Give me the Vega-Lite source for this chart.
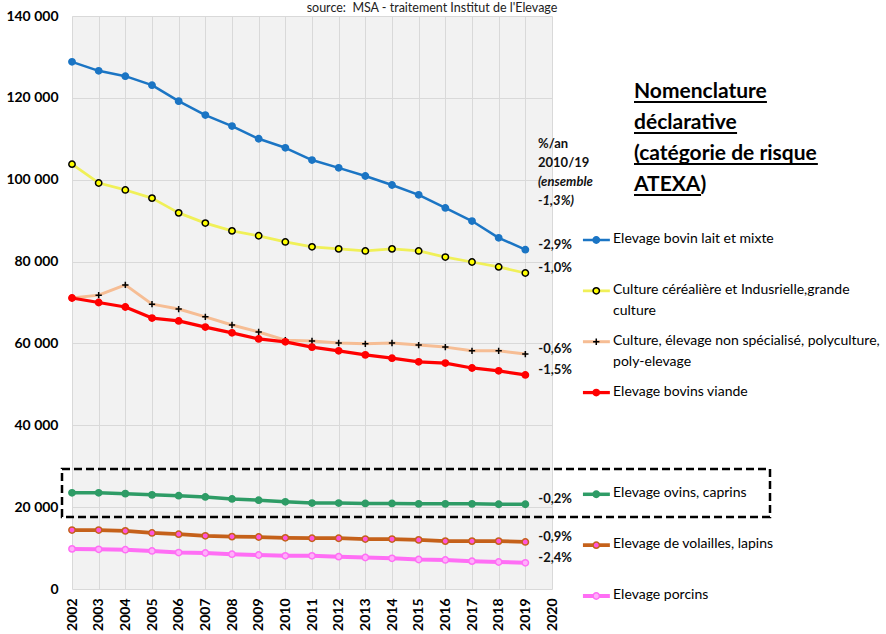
{
  "$schema": "https://vega.github.io/schema/vega-lite/v6.json",
  "width": 480,
  "height": 573,
  "autosize": {"type": "none"},
  "padding": {"left": 72, "top": 16, "right": 334, "bottom": 45},
  "background": "white",
  "config": {
    "view": {"fill": "#F2F2F2", "stroke": null},
    "font": "Lato",
    "text": {"font": "Lato"}
  },
  "datasets": {
    "main": [
      {"series": "Elevage bovin lait et mixte", "year": 2002, "value": 128800},
      {"series": "Elevage bovin lait et mixte", "year": 2003, "value": 126600},
      {"series": "Elevage bovin lait et mixte", "year": 2004, "value": 125300},
      {"series": "Elevage bovin lait et mixte", "year": 2005, "value": 123100},
      {"series": "Elevage bovin lait et mixte", "year": 2006, "value": 119200},
      {"series": "Elevage bovin lait et mixte", "year": 2007, "value": 115800},
      {"series": "Elevage bovin lait et mixte", "year": 2008, "value": 113100},
      {"series": "Elevage bovin lait et mixte", "year": 2009, "value": 110000},
      {"series": "Elevage bovin lait et mixte", "year": 2010, "value": 107800},
      {"series": "Elevage bovin lait et mixte", "year": 2011, "value": 104800},
      {"series": "Elevage bovin lait et mixte", "year": 2012, "value": 102900},
      {"series": "Elevage bovin lait et mixte", "year": 2013, "value": 100900},
      {"series": "Elevage bovin lait et mixte", "year": 2014, "value": 98700},
      {"series": "Elevage bovin lait et mixte", "year": 2015, "value": 96300},
      {"series": "Elevage bovin lait et mixte", "year": 2016, "value": 93100},
      {"series": "Elevage bovin lait et mixte", "year": 2017, "value": 89900},
      {"series": "Elevage bovin lait et mixte", "year": 2018, "value": 85800},
      {"series": "Elevage bovin lait et mixte", "year": 2019, "value": 82900},
      {"series": "Culture céréalière et Indusrielle,grande culture", "year": 2002, "value": 103800},
      {"series": "Culture céréalière et Indusrielle,grande culture", "year": 2003, "value": 99200},
      {"series": "Culture céréalière et Indusrielle,grande culture", "year": 2004, "value": 97500},
      {"series": "Culture céréalière et Indusrielle,grande culture", "year": 2005, "value": 95500},
      {"series": "Culture céréalière et Indusrielle,grande culture", "year": 2006, "value": 91900},
      {"series": "Culture céréalière et Indusrielle,grande culture", "year": 2007, "value": 89400},
      {"series": "Culture céréalière et Indusrielle,grande culture", "year": 2008, "value": 87500},
      {"series": "Culture céréalière et Indusrielle,grande culture", "year": 2009, "value": 86300},
      {"series": "Culture céréalière et Indusrielle,grande culture", "year": 2010, "value": 84800},
      {"series": "Culture céréalière et Indusrielle,grande culture", "year": 2011, "value": 83600},
      {"series": "Culture céréalière et Indusrielle,grande culture", "year": 2012, "value": 83100},
      {"series": "Culture céréalière et Indusrielle,grande culture", "year": 2013, "value": 82600},
      {"series": "Culture céréalière et Indusrielle,grande culture", "year": 2014, "value": 83100},
      {"series": "Culture céréalière et Indusrielle,grande culture", "year": 2015, "value": 82600},
      {"series": "Culture céréalière et Indusrielle,grande culture", "year": 2016, "value": 81100},
      {"series": "Culture céréalière et Indusrielle,grande culture", "year": 2017, "value": 79900},
      {"series": "Culture céréalière et Indusrielle,grande culture", "year": 2018, "value": 78700},
      {"series": "Culture céréalière et Indusrielle,grande culture", "year": 2019, "value": 77200},
      {"series": "Culture, élevage non spécialisé, polyculture, poly-elevage", "year": 2002, "value": 71100},
      {"series": "Culture, élevage non spécialisé, polyculture, poly-elevage", "year": 2003, "value": 71800},
      {"series": "Culture, élevage non spécialisé, polyculture, poly-elevage", "year": 2004, "value": 74300},
      {"series": "Culture, élevage non spécialisé, polyculture, poly-elevage", "year": 2005, "value": 69600},
      {"series": "Culture, élevage non spécialisé, polyculture, poly-elevage", "year": 2006, "value": 68400},
      {"series": "Culture, élevage non spécialisé, polyculture, poly-elevage", "year": 2007, "value": 66500},
      {"series": "Culture, élevage non spécialisé, polyculture, poly-elevage", "year": 2008, "value": 64500},
      {"series": "Culture, élevage non spécialisé, polyculture, poly-elevage", "year": 2009, "value": 62800},
      {"series": "Culture, élevage non spécialisé, polyculture, poly-elevage", "year": 2010, "value": 60800},
      {"series": "Culture, élevage non spécialisé, polyculture, poly-elevage", "year": 2011, "value": 60600},
      {"series": "Culture, élevage non spécialisé, polyculture, poly-elevage", "year": 2012, "value": 60100},
      {"series": "Culture, élevage non spécialisé, polyculture, poly-elevage", "year": 2013, "value": 59900},
      {"series": "Culture, élevage non spécialisé, polyculture, poly-elevage", "year": 2014, "value": 60100},
      {"series": "Culture, élevage non spécialisé, polyculture, poly-elevage", "year": 2015, "value": 59600},
      {"series": "Culture, élevage non spécialisé, polyculture, poly-elevage", "year": 2016, "value": 59100},
      {"series": "Culture, élevage non spécialisé, polyculture, poly-elevage", "year": 2017, "value": 58200},
      {"series": "Culture, élevage non spécialisé, polyculture, poly-elevage", "year": 2018, "value": 58200},
      {"series": "Culture, élevage non spécialisé, polyculture, poly-elevage", "year": 2019, "value": 57400},
      {"series": "Elevage bovins viande", "year": 2002, "value": 71100},
      {"series": "Elevage bovins viande", "year": 2003, "value": 70000},
      {"series": "Elevage bovins viande", "year": 2004, "value": 68900},
      {"series": "Elevage bovins viande", "year": 2005, "value": 66200},
      {"series": "Elevage bovins viande", "year": 2006, "value": 65500},
      {"series": "Elevage bovins viande", "year": 2007, "value": 64000},
      {"series": "Elevage bovins viande", "year": 2008, "value": 62600},
      {"series": "Elevage bovins viande", "year": 2009, "value": 61100},
      {"series": "Elevage bovins viande", "year": 2010, "value": 60400},
      {"series": "Elevage bovins viande", "year": 2011, "value": 59100},
      {"series": "Elevage bovins viande", "year": 2012, "value": 58200},
      {"series": "Elevage bovins viande", "year": 2013, "value": 57200},
      {"series": "Elevage bovins viande", "year": 2014, "value": 56400},
      {"series": "Elevage bovins viande", "year": 2015, "value": 55500},
      {"series": "Elevage bovins viande", "year": 2016, "value": 55200},
      {"series": "Elevage bovins viande", "year": 2017, "value": 54000},
      {"series": "Elevage bovins viande", "year": 2018, "value": 53300},
      {"series": "Elevage bovins viande", "year": 2019, "value": 52300},
      {"series": "Elevage ovins, caprins", "year": 2002, "value": 23500},
      {"series": "Elevage ovins, caprins", "year": 2003, "value": 23500},
      {"series": "Elevage ovins, caprins", "year": 2004, "value": 23300},
      {"series": "Elevage ovins, caprins", "year": 2005, "value": 23000},
      {"series": "Elevage ovins, caprins", "year": 2006, "value": 22800},
      {"series": "Elevage ovins, caprins", "year": 2007, "value": 22500},
      {"series": "Elevage ovins, caprins", "year": 2008, "value": 22000},
      {"series": "Elevage ovins, caprins", "year": 2009, "value": 21700},
      {"series": "Elevage ovins, caprins", "year": 2010, "value": 21300},
      {"series": "Elevage ovins, caprins", "year": 2011, "value": 21000},
      {"series": "Elevage ovins, caprins", "year": 2012, "value": 21000},
      {"series": "Elevage ovins, caprins", "year": 2013, "value": 20900},
      {"series": "Elevage ovins, caprins", "year": 2014, "value": 20900},
      {"series": "Elevage ovins, caprins", "year": 2015, "value": 20800},
      {"series": "Elevage ovins, caprins", "year": 2016, "value": 20800},
      {"series": "Elevage ovins, caprins", "year": 2017, "value": 20800},
      {"series": "Elevage ovins, caprins", "year": 2018, "value": 20700},
      {"series": "Elevage ovins, caprins", "year": 2019, "value": 20700},
      {"series": "Elevage de volailles, lapins", "year": 2002, "value": 14400},
      {"series": "Elevage de volailles, lapins", "year": 2003, "value": 14400},
      {"series": "Elevage de volailles, lapins", "year": 2004, "value": 14200},
      {"series": "Elevage de volailles, lapins", "year": 2005, "value": 13700},
      {"series": "Elevage de volailles, lapins", "year": 2006, "value": 13400},
      {"series": "Elevage de volailles, lapins", "year": 2007, "value": 13000},
      {"series": "Elevage de volailles, lapins", "year": 2008, "value": 12800},
      {"series": "Elevage de volailles, lapins", "year": 2009, "value": 12700},
      {"series": "Elevage de volailles, lapins", "year": 2010, "value": 12500},
      {"series": "Elevage de volailles, lapins", "year": 2011, "value": 12400},
      {"series": "Elevage de volailles, lapins", "year": 2012, "value": 12400},
      {"series": "Elevage de volailles, lapins", "year": 2013, "value": 12200},
      {"series": "Elevage de volailles, lapins", "year": 2014, "value": 12200},
      {"series": "Elevage de volailles, lapins", "year": 2015, "value": 12000},
      {"series": "Elevage de volailles, lapins", "year": 2016, "value": 11700},
      {"series": "Elevage de volailles, lapins", "year": 2017, "value": 11700},
      {"series": "Elevage de volailles, lapins", "year": 2018, "value": 11700},
      {"series": "Elevage de volailles, lapins", "year": 2019, "value": 11500},
      {"series": "Elevage porcins", "year": 2002, "value": 9800},
      {"series": "Elevage porcins", "year": 2003, "value": 9700},
      {"series": "Elevage porcins", "year": 2004, "value": 9600},
      {"series": "Elevage porcins", "year": 2005, "value": 9300},
      {"series": "Elevage porcins", "year": 2006, "value": 8900},
      {"series": "Elevage porcins", "year": 2007, "value": 8800},
      {"series": "Elevage porcins", "year": 2008, "value": 8500},
      {"series": "Elevage porcins", "year": 2009, "value": 8300},
      {"series": "Elevage porcins", "year": 2010, "value": 8100},
      {"series": "Elevage porcins", "year": 2011, "value": 8100},
      {"series": "Elevage porcins", "year": 2012, "value": 7900},
      {"series": "Elevage porcins", "year": 2013, "value": 7700},
      {"series": "Elevage porcins", "year": 2014, "value": 7500},
      {"series": "Elevage porcins", "year": 2015, "value": 7200},
      {"series": "Elevage porcins", "year": 2016, "value": 7100},
      {"series": "Elevage porcins", "year": 2017, "value": 6800},
      {"series": "Elevage porcins", "year": 2018, "value": 6600},
      {"series": "Elevage porcins", "year": 2019, "value": 6400}
    ],
    "pct": [
      {"series": "Elevage bovin lait et mixte", "pct": "-2,9%"},
      {"series": "Culture céréalière et Indusrielle,grande culture", "pct": "-1,0%"},
      {"series": "Culture, élevage non spécialisé, polyculture, poly-elevage", "pct": "-0,6%"},
      {"series": "Elevage bovins viande", "pct": "-1,5%"},
      {"series": "Elevage ovins, caprins", "pct": "-0,2%"},
      {"series": "Elevage de volailles, lapins", "pct": "-0,9%"},
      {"series": "Elevage porcins", "pct": "-2,4%"}
    ],
    "legend": [
      {"series": "Elevage bovin lait et mixte", "label": "Elevage bovin lait et mixte"},
      {"series": "Culture céréalière et Indusrielle,grande culture", "label": "Culture céréalière et Indusrielle,grande|culture"},
      {"series": "Culture, élevage non spécialisé, polyculture, poly-elevage", "label": "Culture, élevage non spécialisé, polyculture,|poly-elevage"},
      {"series": "Elevage bovins viande", "label": "Elevage bovins viande"},
      {"series": "Elevage ovins, caprins", "label": "Elevage ovins, caprins"},
      {"series": "Elevage de volailles, lapins", "label": "Elevage de volailles, lapins"},
      {"series": "Elevage porcins", "label": "Elevage porcins"}
    ],
    "note": [{}]
  },
  "layer": [
    {
      "data": {"name": "main"},
      "layer": [
        {
          "mark": {"type": "line", "strokeCap": "round", "strokeJoin": "round"},
          "encoding": {
            "x": {
              "field": "year", "type": "ordinal",
              "scale": {"type": "point", "domain": [2002, 2003, 2004, 2005, 2006, 2007, 2008, 2009, 2010, 2011, 2012, 2013, 2014, 2015, 2016, 2017, 2018, 2019, 2020], "padding": 0},
              "axis": {
                "title": null,
                "labelAngle": -90,
                "labelOverlap": false,
                "labelFont": "Lato",
                "labelFontSize": 14,
                "labelFontWeight": "bold",
                "labelColor": "#000000",
                "labelPadding": 9,
                "ticks": false,
                "domain": false,
                "grid": true,
                "gridColor": "#D9D9D9",
                "gridWidth": 1
              }
            },
            "y": {
              "field": "value", "type": "quantitative",
              "scale": {"domain": [0, 140000], "nice": false},
              "axis": {
                "title": null,
                "values": [0, 20000, 40000, 60000, 80000, 100000, 120000, 140000],
                "labelExpr": "replace(format(datum.value, ','), ',', ' ')",
                "labelFlush": false,
                "labelFont": "Lato",
                "labelFontSize": 14,
                "labelFontWeight": "bold",
                "labelColor": "#000000",
                "labelPadding": 14,
                "ticks": false,
                "domain": false,
                "grid": true,
                "gridColor": "#D9D9D9",
                "gridWidth": 1
              }
            },
            "color": {
              "field": "series", "type": "nominal",
              "scale": {
                "domain": ["Elevage bovin lait et mixte", "Culture céréalière et Indusrielle,grande culture", "Culture, élevage non spécialisé, polyculture, poly-elevage", "Elevage bovins viande", "Elevage ovins, caprins", "Elevage de volailles, lapins", "Elevage porcins"],
                "range": ["#1B75C4", "#F0F058", "#F6BD94", "#FF0000", "#2E9C66", "#C5611A", "#FF6EF5"]
              },
              "legend": null
            },
            "strokeWidth": {
              "field": "series", "type": "nominal",
              "scale": {
                "domain": ["Elevage bovin lait et mixte", "Culture céréalière et Indusrielle,grande culture", "Culture, élevage non spécialisé, polyculture, poly-elevage", "Elevage bovins viande", "Elevage ovins, caprins", "Elevage de volailles, lapins", "Elevage porcins"],
                "range": [2.5, 4, 7, 2.5, 2.5, 2.5, 2.5]
              },
              "legend": null
            }
          }
        },
        {
          "mark": {"type": "point", "filled": true, "opacity": 1, "strokeWidth": 1.5, "size": 40},
          "encoding": {
            "x": {"field": "year", "type": "ordinal"},
            "y": {"field": "value", "type": "quantitative"},
            "fill": {
              "field": "series", "type": "nominal",
              "scale": {
                "domain": ["Elevage bovin lait et mixte", "Culture céréalière et Indusrielle,grande culture", "Culture, élevage non spécialisé, polyculture, poly-elevage", "Elevage bovins viande", "Elevage ovins, caprins", "Elevage de volailles, lapins", "Elevage porcins"],
                "range": ["#1B75C4", "#FFFF00", "transparent", "#FF0000", "#2E9C66", "#FF55DD", "#FFB0FA"]
              },
              "legend": null
            },
            "stroke": {
              "field": "series", "type": "nominal",
              "scale": {
                "domain": ["Elevage bovin lait et mixte", "Culture céréalière et Indusrielle,grande culture", "Culture, élevage non spécialisé, polyculture, poly-elevage", "Elevage bovins viande", "Elevage ovins, caprins", "Elevage de volailles, lapins", "Elevage porcins"],
                "range": ["#1B75C4", "#000000", "#000000", "#FF0000", "#2E9C66", "#C5611A", "#FF6EF5"]
              },
              "legend": null
            },
            "shape": {
              "field": "series", "type": "nominal",
              "scale": {
                "domain": ["Elevage bovin lait et mixte", "Culture céréalière et Indusrielle,grande culture", "Culture, élevage non spécialisé, polyculture, poly-elevage", "Elevage bovins viande", "Elevage ovins, caprins", "Elevage de volailles, lapins", "Elevage porcins"],
                "range": ["circle", "circle", "M-1,0H1M0,-1V1", "circle", "circle", "circle", "circle"]
              },
              "legend": null
            }
          }
        },
        {
          "transform": [
            {"filter": "datum.year == 2019"},
            {"lookup": "series", "from": {"data": {"name": "pct"}, "key": "series", "fields": ["pct"]}}
          ],
          "mark": {"type": "text", "align": "left", "baseline": "middle", "dx": 13, "dy": -5, "fontSize": 13, "fontWeight": "bold", "font": "Lato", "color": "#111111"},
          "encoding": {
            "x": {"field": "year", "type": "ordinal"},
            "y": {"field": "value", "type": "quantitative"},
            "text": {"field": "pct", "type": "nominal"}
          }
        }
      ]
    },
    {
      "layer": [
        {
          "data": {"name": "note"},
          "layer": [
            {
              "mark": {"type": "text", "text": "source: \u00a0MSA - traitement Institut de l'Elevage", "align": "center", "baseline": "middle", "fontSize": 12.5, "font": "Lato", "color": "#222222"},
              "encoding": {
                "x": {"datum": 2015.5, "type": "quantitative", "scale": {"domain": [2002, 2020], "nice": false, "zero": false}, "axis": null},
                "y": {"datum": 141950, "type": "quantitative", "scale": {"domain": [0, 140000], "nice": false, "zero": false}, "axis": null}
              }
            },
            {
              "mark": {"type": "text", "text": "%/an|2010/19", "lineBreak": "|", "lineHeight": 19, "align": "left", "baseline": "alphabetic", "fontSize": 13, "fontWeight": "bold", "font": "Lato", "color": "#111111"},
              "encoding": {
                "x": {"datum": 2019.475, "type": "quantitative", "axis": null},
                "y": {"datum": 107750, "type": "quantitative", "axis": null}
              }
            },
            {
              "mark": {"type": "text", "text": "(ensemble|-1,3%)", "lineBreak": "|", "lineHeight": 19, "align": "left", "baseline": "alphabetic", "fontSize": 13, "fontWeight": "bold", "fontStyle": "italic", "font": "Lato", "color": "#111111"},
              "encoding": {
                "x": {"datum": 2019.475, "type": "quantitative", "axis": null},
                "y": {"datum": 98460, "type": "quantitative", "axis": null}
              }
            },
            {
              "mark": {"type": "text", "text": "Nomenclature|déclarative|(catégorie de risque|ATEXA)", "lineBreak": "|", "lineHeight": 31, "align": "left", "baseline": "alphabetic", "fontSize": 21, "fontWeight": "bold", "font": "Lato", "color": "#000000"},
              "encoding": {
                "x": {"datum": 2023.075, "type": "quantitative", "axis": null},
                "y": {"datum": 119965, "type": "quantitative", "axis": null}
              }
            },
            {
              "mark": {"type": "rule", "stroke": "#000000", "strokeWidth": 2},
              "encoding": {
                "x": {"datum": 2023.075, "type": "quantitative", "axis": null},
                "x2": {"datum": 2028.06},
                "y": {"datum": 118990, "type": "quantitative", "axis": null}
              }
            },
            {
              "mark": {"type": "rule", "stroke": "#000000", "strokeWidth": 2},
              "encoding": {
                "x": {"datum": 2023.075, "type": "quantitative", "axis": null},
                "x2": {"datum": 2026.94},
                "y": {"datum": 111410, "type": "quantitative", "axis": null}
              }
            },
            {
              "mark": {"type": "rule", "stroke": "#000000", "strokeWidth": 2},
              "encoding": {
                "x": {"datum": 2023.075, "type": "quantitative", "axis": null},
                "x2": {"datum": 2029.97},
                "y": {"datum": 103840, "type": "quantitative", "axis": null}
              }
            },
            {
              "mark": {"type": "rule", "stroke": "#000000", "strokeWidth": 2},
              "encoding": {
                "x": {"datum": 2023.075, "type": "quantitative", "axis": null},
                "x2": {"datum": 2025.59},
                "y": {"datum": 96260, "type": "quantitative", "axis": null}
              }
            },
            {
              "mark": {"type": "rect", "fillOpacity": 0, "stroke": "#000000", "strokeWidth": 2.5, "strokeDash": [8, 4]},
              "encoding": {
                "x": {"datum": 2001.625, "type": "quantitative", "axis": null},
                "x2": {"datum": 2028.175},
                "y": {"datum": 29320, "type": "quantitative", "axis": null},
                "y2": {"datum": 17590}
              }
            }
          ]
        },
        {
          "data": {"name": "legend"},
          "layer": [
            {
              "mark": {"type": "rule"},
              "encoding": {
                "x": {"datum": 2021.16, "type": "quantitative", "axis": null},
                "x2": {"datum": 2022.17},
                "y": {
                  "field": "series", "type": "nominal",
                  "scale": {
                    "type": "point",
                    "padding": 0,
                    "domain": ["Elevage bovin lait et mixte", "Culture céréalière et Indusrielle,grande culture", "Culture, élevage non spécialisé, polyculture, poly-elevage", "Elevage bovins viande", " ", "Elevage ovins, caprins", "Elevage de volailles, lapins", "Elevage porcins"],
                    "range": [224, 580]
                  },
                  "axis": null
                },
                "color": {"field": "series", "type": "nominal", "legend": null},
                "strokeWidth": {"field": "series", "type": "nominal", "legend": null}
              }
            },
            {
              "mark": {"type": "point", "filled": true, "opacity": 1, "strokeWidth": 1.5, "size": 40},
              "encoding": {
                "x": {"datum": 2021.66, "type": "quantitative", "axis": null},
                "y": {"field": "series", "type": "nominal", "axis": null},
                "fill": {"field": "series", "type": "nominal", "legend": null},
                "stroke": {"field": "series", "type": "nominal", "legend": null},
                "shape": {"field": "series", "type": "nominal", "legend": null}
              }
            },
            {
              "mark": {"type": "text", "align": "left", "baseline": "top", "dy": -8, "lineBreak": "|", "lineHeight": 21, "fontSize": 14, "font": "Lato", "color": "#000000"},
              "encoding": {
                "x": {"datum": 2022.29, "type": "quantitative", "axis": null},
                "y": {"field": "series", "type": "nominal", "axis": null},
                "text": {"field": "label", "type": "nominal"}
              }
            }
          ]
        }
      ],
      "resolve": {"scale": {"y": "independent"}}
    }
  ],
  "resolve": {"scale": {"x": "independent", "y": "independent"}, "axis": {"x": "independent", "y": "independent"}}
}
